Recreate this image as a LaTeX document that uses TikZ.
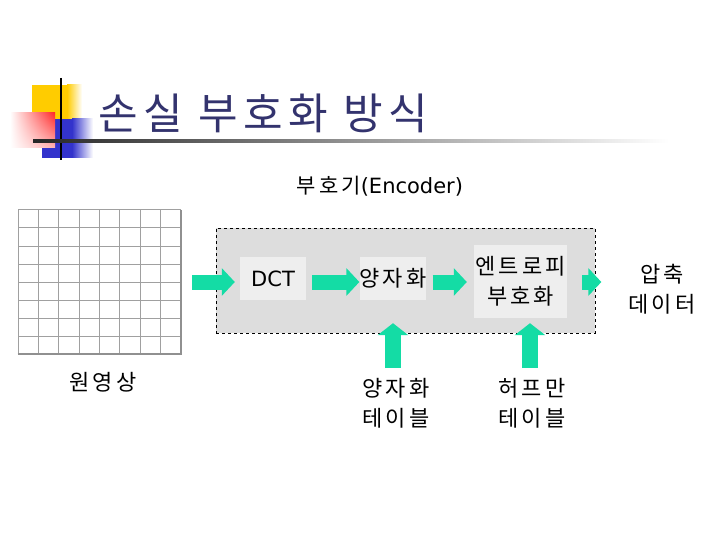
\documentclass[tikz,border=0pt]{standalone}
\usepackage{fontspec}
\setmainfont{Noto Sans CJK KR}
\newfontfamily\krfont[LetterSpace=14]{Noto Sans CJK KR}
\newfontfamily\titlefont[LetterSpace=13]{Noto Sans CJK KR}
\newfontfamily\latfont{DejaVu Sans}
\usetikzlibrary{arrows.meta,shadings}
\definecolor{arrowgreen}{RGB}{20,220,165}
\definecolor{titleblue}{RGB}{51,51,110}
\definecolor{panelgray}{RGB}{221,221,221}
\definecolor{boxgray}{RGB}{238,238,238}
\definecolor{gridgray}{RGB}{160,160,160}
\definecolor{decoyellow}{RGB}{255,204,0}
\definecolor{decoblue}{RGB}{51,51,204}
\definecolor{decored}{RGB}{255,40,40}
\begin{document}
\begin{tikzpicture}[x=1pt,y=-1pt,
  flow/.style={arrowgreen, line width=15pt, -{Triangle[length=13pt,width=27pt]}},
  stage/.style={fill=boxgray, inner sep=0pt, align=center, font=\krfont\fontsize{22}{30}\selectfont},
  lbltext/.style={inner sep=0pt, align=center, font=\krfont\fontsize{22}{30}\selectfont},
  gridline/.style={gridgray, line width=1pt}
]
\useasboundingbox (0,0) rectangle (720,540);
\fill[white] (0,0) rectangle (720,540);

% title decoration
\fill[decoyellow] (32,85) rectangle (67,135);
\shade[left color=decoyellow, right color=white] (67,85) rectangle (82,135);
\fill[decoblue] (42,119) rectangle (72,158);
\shade[left color=decoblue, right color=white] (72,119) rectangle (93,158);
\shade[upper right=decored, upper left=white, lower right=decored!35, lower left=white] (10,113) rectangle (55,148);
\draw[line width=2.5pt, black] (61,78) -- (61,160);
\shade[left color=black!85, middle color=black!40, right color=white] (33,139.5) rectangle (669,142.5);

\node[anchor=west, inner sep=0pt, text=titleblue, font=\titlefont\fontsize{43}{46}\selectfont] (title) at (98,113) {손실 부호화 방식};

% subtitle
\node[inner sep=0pt, font=\fontsize{21}{25}\selectfont] (enc) at (380,186) {{\krfont 부호기}{\latfont (Encoder)}};

% encoder panel
\node[draw=black, dashed, line width=0.8pt, fill=panelgray, minimum width=379pt, minimum height=105pt, inner sep=0pt] (panel) at (405.5,280.5) {};

% original image grid
\node[minimum width=163pt, minimum height=144pt, inner sep=0pt] (grid) at (99.5,282) {};
\foreach \i in {0,...,7} \draw[gridline] (18+\i*20.375,210) -- ++(0,144);
\foreach \j in {0,...,7} \draw[gridline] (18,210+\j*18) -- ++(163,0);
\draw[gridgray!90!black, line width=2pt] (181,210) -- (181,355) (17.5,354) -- (182,354);
\node[lbltext] (src) at (103,382) {원영상};

% stages
\node[stage, minimum width=66pt, minimum height=43pt, font=\latfont\fontsize{21}{25}\selectfont] (dct) at (273,278.5) {DCT};
\node[stage, minimum width=66pt, minimum height=43pt] (quant) at (393,278.5) {양자화};
\node[stage, minimum width=93pt, minimum height=73pt] (ent) at (520.5,281.5) {엔트로피\\부호화};
\node[lbltext, minimum width=60pt] (out) at (662,289) {압축\\데이터};

% table labels
\node[lbltext] (qtab) at (396,403.5) {양자화\\테이블};
\node[lbltext] (htab) at (532,403.5) {허프만\\테이블};
\coordinate (qa) at (393,368);
\coordinate (ha) at (530,368);

% horizontal flow arrows
\draw[flow, shorten <=11pt, shorten >=5pt] (grid.east) -- (grid.east -| dct.west);
\draw[flow, shorten <=6pt] (grid.east -| dct.east) -- (grid.east -| quant.west);
\draw[flow, shorten <=6pt, shorten >=7pt] (grid.east -| quant.east) -- (grid.east -| ent.west);
\draw[flow, shorten <=15pt, shorten >=27pt] (grid.east -| ent.east) -- (grid.east -| out.west);

% vertical arrows
\draw[flow, line width=16pt, -{Triangle[length=12pt,width=30pt]}, shorten >=23pt] (qa) -- (qa |- quant.south);
\draw[flow, line width=16pt, -{Triangle[length=12pt,width=30pt]}, shorten >=5pt] (ha) -- (ha |- ent.south);
\end{tikzpicture}
\end{document}
